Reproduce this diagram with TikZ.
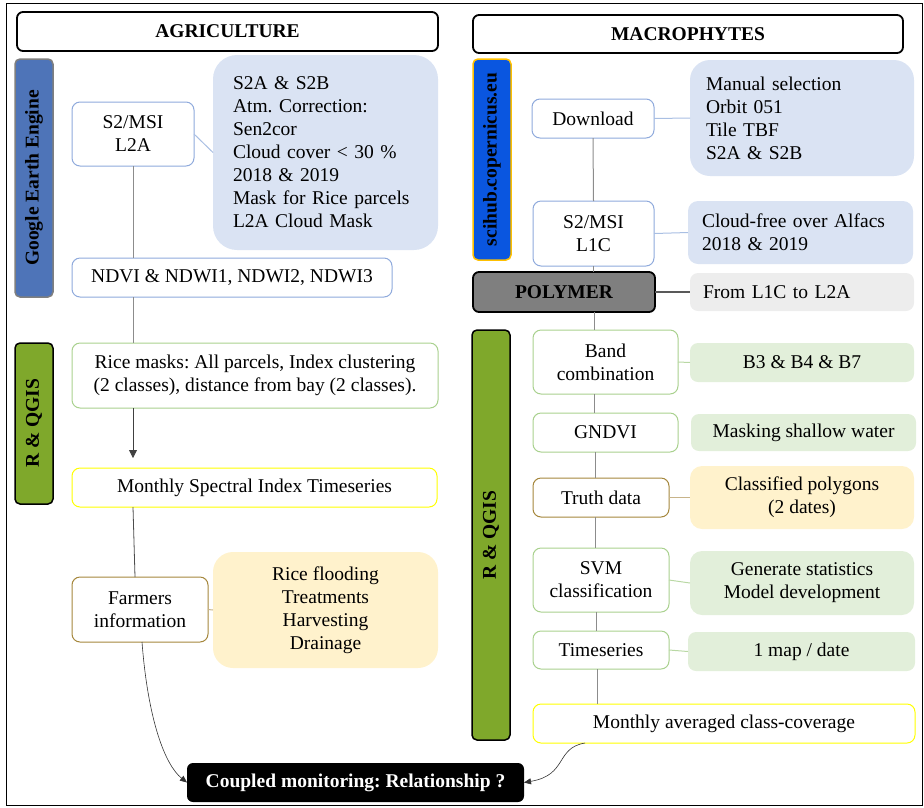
\documentclass[tikz,border=0pt]{standalone}
\usepackage{fontspec}
\setmainfont{Liberation Serif}
\usetikzlibrary{arrows.meta}
\frenchspacing
\definecolor{geeblue}{HTML}{4E74B8}
\definecolor{geeborder}{HTML}{7F7F7F}
\definecolor{sciblue}{HTML}{0A56E0}
\definecolor{sciborder}{HTML}{FFC000}
\definecolor{barGreen}{HTML}{7FA82B}
\definecolor{polyGray}{HTML}{7F7F7F}
\definecolor{noteBlue}{HTML}{DAE3F3}
\definecolor{noteGreen}{HTML}{E2EFDA}
\definecolor{noteYellow}{HTML}{FFF2CC}
\definecolor{noteGray}{HTML}{EDEDED}
\definecolor{bordBlue}{HTML}{8FAADC}
\definecolor{bordGreen}{HTML}{A9D18E}
\definecolor{bordBrown}{HTML}{A5873C}
\definecolor{bordYellow}{HTML}{FFFF00}
\definecolor{lnBlue}{HTML}{A9BFE3}
\definecolor{lnGreen}{HTML}{B9D8A4}
\definecolor{lnBrown}{HTML}{C8B48A}
\definecolor{lnGray}{HTML}{8C8C8C}
\definecolor{lnDark}{HTML}{595959}
\begin{document}
\begin{tikzpicture}[x=1pt,y=-1pt,
  every node/.style={font=\fontsize{19.5}{23}\selectfont, inner sep=0pt, outer sep=0pt, text=black},
  sz/.style 2 args={minimum width=#1, minimum height=#2},
  hdr/.style={draw=black, line width=1.8pt, rounded corners=6pt, fill=white, font=\fontsize{19.5}{23}\selectfont\bfseries},
  bar/.style={line width=1.5pt, rounded corners=5pt, rotate=90, font=\fontsize{19.5}{23}\selectfont\bfseries},
  boxbase/.style={fill=white, line width=1pt, rounded corners=8pt, align=center},
  bxb/.style={boxbase, draw=bordBlue},
  bxg/.style={boxbase, draw=bordGreen},
  bxbr/.style={boxbase, draw=bordBrown},
  bxy/.style={boxbase, draw=bordYellow},
  notel/.style={align=left, inner xsep=#1},
  nb/.style={fill=noteBlue, rounded corners=14pt},
  ng/.style={fill=noteGreen, rounded corners=8pt, align=center},
  ny/.style={fill=noteYellow, rounded corners=12pt, align=center},
  spine/.style={draw=lnGray, line width=1pt},
  cblue/.style={draw=lnBlue, line width=1pt},
  cgreen/.style={draw=lnGreen, line width=1pt},
  cbrown/.style={draw=lnBrown, line width=1pt},
  cdark/.style={draw=lnDark, line width=1.2pt},
  carrow/.style={draw=black!80, line width=0.6pt, -{Triangle[length=7pt,width=6pt]}}
]
\useasboundingbox (0,0) rectangle (924,807);
\draw[line width=1.5pt] (6.5,3.5) rectangle (922.5,805.5);

% ---------------- AGRICULTURE ----------------
\node[hdr, sz={421pt}{39pt}] (agri) at (227.5,31.5) {AGRICULTURE};
\node[bar, draw=geeborder, fill=geeblue, sz={238pt}{38pt}] (gee) at (34,178) {Google Earth Engine};
\node[bxb, sz={122pt}{64pt}] (L2A) at (133,134) {S2/MSI\\L2A};
\node[nb, rounded corners=24pt, sz={225pt}{195pt}, notel=20pt, text width=185pt] (N1) at (325.5,152.5)
  {S2A \& S2B\\Atm. Correction:\\Sen2cor\\Cloud cover < 30 \%\\2018 \& 2019\\Mask for Rice parcels\\L2A Cloud Mask};
\node[bxb, sz={320pt}{39pt}] (NDVI) at (232,277.5) {NDVI \& NDWI1, NDWI2, NDWI3};
\node[bar, draw=black, fill=barGreen, sz={161pt}{38pt}] (rql) at (34,423.5) {R \& QGIS};
\node[bxg, sz={366pt}{65pt}] (Rice) at (255,375.5) {Rice masks: All parcels, Index clustering\\(2 classes), distance from bay (2 classes).};
\node[bxy, sz={365pt}{39pt}] (MSIT) at (254.5,487.5) {Monthly Spectral Index Timeseries};
\node[bxbr, sz={136pt}{65pt}] (Farmers) at (140,609.5) {Farmers\\information};
\node[ny, rounded corners=20pt, sz={225pt}{116pt}] (NY) at (325.5,610) {Rice flooding\\Treatments\\Harvesting\\Drainage};

% ---------------- MACROPHYTES ----------------
\node[hdr, sz={430pt}{38pt}] (macro) at (688,34) {MACROPHYTES};
\node[bar, draw=sciborder, fill=sciblue, sz={201pt}{38pt}] (sci) at (492,159.5) {scihub.copernicus.eu};
\node[bxb, sz={122pt}{39pt}] (Download) at (593,118.5) {Download};
\node[nb, rounded corners=20pt, sz={224pt}{116pt}, notel=16pt, text width=192pt] (ND) at (802,118)
  {Manual selection\\Orbit 051\\Tile TBF\\S2A \& S2B};
\node[bxb, sz={121pt}{65pt}] (L1C) at (593.5,233.5) {S2/MSI\\L1C};
\node[nb, rounded corners=10pt, sz={225pt}{63pt}, notel=14pt, text width=197pt] (NL1C) at (800.5,232.5)
  {Cloud-free over Alfacs\\2018 \& 2019};
\node[draw=black, line width=1.8pt, rounded corners=6pt, fill=polyGray, sz={182pt}{40pt}, font=\fontsize{19.5}{23}\selectfont\bfseries] (POLY) at (564,292) {POLYMER};
\node[fill=noteGray, rounded corners=8pt, sz={224pt}{38pt}, notel=13pt, text width=198pt] (NP) at (802,292) {From L1C to L2A};
\node[bar, draw=black, fill=barGreen, sz={410pt}{38pt}] (rqr) at (491,535) {R \& QGIS};
\node[bxg, sz={145pt}{64pt}] (Band) at (605.5,362) {Band\\combination};
\node[ng, sz={224pt}{39pt}] (NB) at (802,362.5) {B3 \& B4 \& B7};
\node[bxg, sz={145pt}{39pt}] (GNDVI) at (605.5,432.5) {GNDVI};
\node[ng, sz={225pt}{37pt}] (NG) at (803.5,432.5) {Masking shallow water};
\node[bxbr, sz={136pt}{39pt}] (Truth) at (601,497.5) {Truth data};
\node[ny, sz={224pt}{63pt}] (NT) at (802,497.5) {Classified polygons\\(2 dates)};
\node[bxg, sz={136pt}{64pt}] (SVM) at (601,580) {SVM\\classification};
\node[ng, rounded corners=12pt, sz={224pt}{64pt}] (NS) at (802,583) {Generate statistics\\Model development};
\node[bxg, sz={136pt}{38pt}] (TS) at (601,650) {Timeseries};
\node[ng, sz={227pt}{39pt}] (NTS) at (801.5,651.5) {1 map / date};
\node[bxy, sz={382pt}{39pt}] (MAC) at (724,723.5) {Monthly averaged class-coverage};

% ---------------- Result ----------------
\node[fill=black, rounded corners=6pt, sz={337pt}{39pt}, text=white, font=\fontsize{19.5}{23}\selectfont\bfseries] (Coupled) at (355.5,782.5) {Coupled monitoring: Relationship ?};

% ---------------- connectors ----------------
\coordinate (spL) at (133,0);
\coordinate (spR) at (594,0);
\draw[spine] (L2A.south) -- (spL |- NDVI.north);
\draw[spine] (spL |- NDVI.south) -- (spL |- Rice.north);
\draw[draw=black!75, line width=0.8pt, -{Triangle[length=8pt,width=8pt]}, shorten >=10pt] (spL |- Rice.south) -- (spL |- MSIT.north);
\draw[draw=black!70, line width=0.8pt] (spL |- MSIT.south) -- ([xshift=-5pt]Farmers.north);

\draw[cblue] (L2A.east) -- (N1.west);
\draw[cbrown] (Farmers.east) -- (NY.west);

\draw[spine] (Download.south) -- (L1C.north);
\draw[spine] (L1C.south) -- (L1C.south |- POLY.north);
\draw[spine] (spR |- POLY.south) -- (spR |- Band.north);
\draw[spine] (spR |- Band.south) -- (spR |- GNDVI.north);
\draw[spine] ([xshift=1pt]spR |- GNDVI.south) -- ([xshift=1pt]spR |- Truth.north);
\draw[spine] ([xshift=1.5pt]spR |- Truth.south) -- ([xshift=1.5pt]spR |- SVM.north);
\draw[spine] ([xshift=2pt]spR |- SVM.south) -- ([xshift=2pt]spR |- TS.north);
\draw[spine] ([xshift=3pt]spR |- TS.south) -- ([xshift=3pt]spR |- MAC.north);

\draw[cblue] (Download.east) -- (ND.west);
\draw[cblue] (L1C.east) -- (NL1C.west);
\draw[cdark] (POLY.east) -- (NP.west);
\draw[cgreen] (Band.east) -- (NB.west);
\draw[cbrown] (Truth.east) -- (NT.west);
\draw[cgreen] (SVM.east) -- (NS.west);
\draw[cgreen] (TS.east) -- (NTS.west);

\draw[carrow] ([xshift=2pt]Farmers.south) .. controls (148,720) and (165,765) .. (Coupled.west);
\draw[carrow] ([xshift=52pt]MAC.south west) .. controls (555,748) and (568,775) .. (Coupled.east);
\end{tikzpicture}
\end{document}
